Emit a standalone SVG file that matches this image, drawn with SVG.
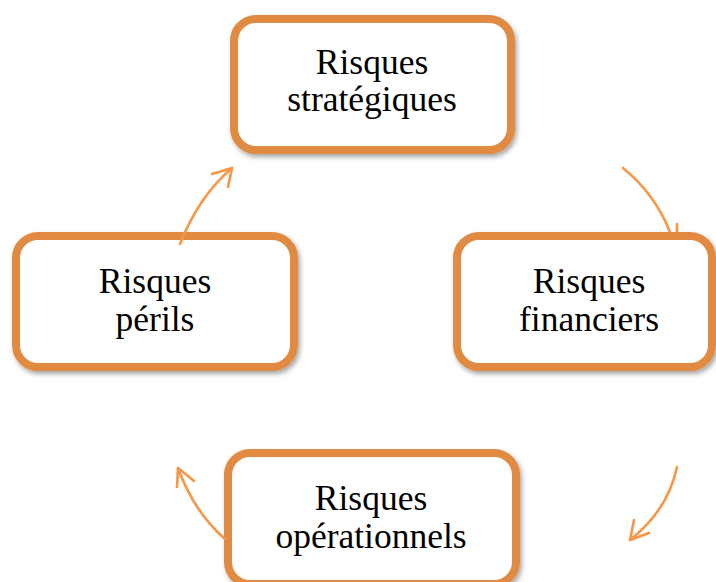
<svg xmlns="http://www.w3.org/2000/svg" width="716" height="582" viewBox="0 0 716 582">
<defs>
<filter id="sh" x="-10%" y="-10%" width="125%" height="130%">
<feDropShadow dx="2" dy="3" stdDeviation="2.5" flood-color="#000" flood-opacity="0.35"/>
</filter>
<style>
.box{fill:#fff;stroke:#E08A42;stroke-width:8;filter:url(#sh)}
.lbl{font-family:"Liberation Serif","Times New Roman",serif;font-size:35.5px;fill:#000;text-anchor:middle}
.arr{fill:none;stroke:#F79646;stroke-width:2.6;stroke-linecap:round;stroke-linejoin:round}
</style>
</defs>
<rect width="716" height="582" fill="#fff"/>
<g id="node-strategiques">
<rect class="box" x="234" y="19" width="277" height="131" rx="22"/>
<text class="lbl" x="372" y="74">Risques</text>
<text class="lbl" x="372" y="111">stratégiques</text>
</g>
<g id="node-perils">
<rect class="box" x="16" y="236" width="278" height="131" rx="22"/>
<text class="lbl" x="155" y="293">Risques</text>
<text class="lbl" x="155" y="331">périls</text>
</g>
<g id="node-financiers">
<rect class="box" x="457" y="236" width="255" height="131" rx="22"/>
<text class="lbl" x="589" y="293">Risques</text>
<text class="lbl" x="589" y="331">financiers</text>
</g>
<g id="node-operationnels">
<rect class="box" x="228" y="453" width="288" height="131" rx="22"/>
<text class="lbl" x="371" y="510">Risques</text>
<text class="lbl" x="371" y="548">opérationnels</text>
</g>
<g id="connectors">
<path class="arr" d="M623,168 Q655,194 670,232"/>
<path class="arr" d="M677,224 L677,232"/>
<path class="arr" d="M677,467 Q668,510 630,540"/>
<path class="arr" d="M634,520 L630,540 L649,533"/>
<path class="arr" d="M225,539 Q194,512 178,468"/>
<path class="arr" d="M177,487 L178,468 L194,481"/>
<path class="arr" d="M180,244 Q199,196 232,168"/>
<path class="arr" d="M212,174 L232,168 L228,187"/>
</g>
</svg>
